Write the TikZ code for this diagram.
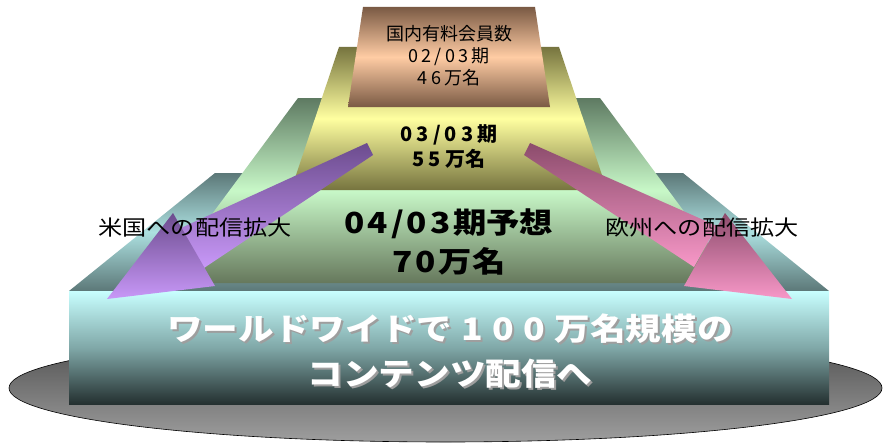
\documentclass[tikz,border=0pt]{standalone}
\usepackage{fontspec}
\newfontfamily\jpn{Noto Sans CJK JP}
\newfontfamily\jpw[FakeStretch=1.15]{Noto Sans CJK JP}
\newcommand{\dgap}{.2em}
\newcommand{\dg}{\kern\dgap}
\newcommand{\shd}[1]{\makebox[0pt][l]{\raisebox{-2pt}{\kern2pt\textcolor{black!38}{#1}}}#1}
\definecolor{tealdark}{HTML}{5C7878}
\definecolor{teallight}{HTML}{ACE0E0}
\definecolor{cyanlight}{HTML}{C8FFFF}
\definecolor{cyanmid}{HTML}{80A8A8}
\definecolor{cyandark}{HTML}{243030}
\definecolor{greendark}{HTML}{5E7A62}
\definecolor{greenlight}{HTML}{C8F8C8}
\definecolor{greenbase}{HTML}{66785C}
\definecolor{olivedark}{HTML}{76743F}
\definecolor{yellowlight}{HTML}{FFFFA0}
\definecolor{browndark}{HTML}{7A5A44}
\definecolor{brownlight}{HTML}{FFCCA4}
\definecolor{purpledark}{HTML}{6C4C8E}
\definecolor{purplelight}{HTML}{C898F8}
\definecolor{pinkdark}{HTML}{8C4C6C}
\definecolor{pinklight}{HTML}{F898C8}
\tikzset{
  band/.style n args={3}{top color=#1,bottom color=#3,middle color=#2},
  ramp/.style 2 args={top color=#1,bottom color=#2},
  lbl/.style={inner sep=0pt,align=center},
  gap/.style={execute at begin node={\renewcommand{\dgap}{#1}}},
}

\begin{document}
\begin{tikzpicture}[x=1pt,y=-1pt]
\useasboundingbox (0,0) rectangle (883,444);
\shadedraw[top color=black!70,bottom color=black!38,draw=black,line width=.6pt] (445.5,388) ellipse [x radius=436.5,y radius=54];
\shade[band={tealdark}{teallight}{tealdark}] (215,173) -- (683,173) -- (829,291) -- (69,291) -- cycle;
\shade[band={cyanlight}{cyanmid}{cyandark}] (69,291) rectangle (829,404);
\shade[band={greendark}{greenlight}{greenbase}] (298,98) -- (600,98) -- (737,283) -- (161,283) -- cycle;
\shade[band={olivedark}{yellowlight}{olivedark}] (339,47) -- (559,47) -- (607,190) -- (291,190) -- cycle;
\shade[band={browndark}{brownlight}{browndark}] (363,7) -- (535,7) -- (550,107) -- (348,107) -- cycle;
\shade[ramp={purpledark}{purplelight}] (367,143) -- (181,228) -- (204,268) -- (373,155) -- cycle;
\shade[ramp={purpledark}{purplelight}] (173,213) -- (107,299) -- (215,286) -- cycle;
\shade[ramp={pinkdark}{pinklight}] (530,143) -- (717,226) -- (694,267) -- (524,155) -- cycle;
\shade[ramp={pinkdark}{pinklight}] (725,213) -- (792,299) -- (684,286) -- cycle;

\node[lbl,gap=.18em,font=\jpn\fontsize{18}{22}\selectfont] (q02) at (449,55.5) {国内有料会員数\\0\dg2\dg/\dg0\dg3\dg{}期\\4\dg6\dg{}万名};
\node[lbl,gap=.2em,font=\jpn\bfseries\fontsize{20}{25}\selectfont] (q03) at (449,146.5) {0\dg3\dg/\dg0\dg3\dg{}期\\5\dg5\dg{}万名};
\node[lbl,gap=.1em,font=\jpw\bfseries\fontsize{29}{39}\selectfont] (q04) at (449,242) {0\dg4\dg/\dg0\dg3\dg{}期予想\\7\dg0\dg{}万名};
\node[lbl,font=\jpw\fontsize{21}{25}\selectfont] (usa) at (195,228) {米国への配信拡大};
\node[lbl,font=\jpw\fontsize{21}{25}\selectfont] (eu) at (702,228) {欧州への配信拡大};
\node[lbl,gap=.3em,text=white,font=\jpw\bfseries\fontsize{31}{45}\selectfont] (world) at (450,352) {\shd{ワールドワイドで\dg1\dg0\dg0\dg{}万名規模の}\\\shd{コンテンツ配信へ}};
\end{tikzpicture}
\end{document}
